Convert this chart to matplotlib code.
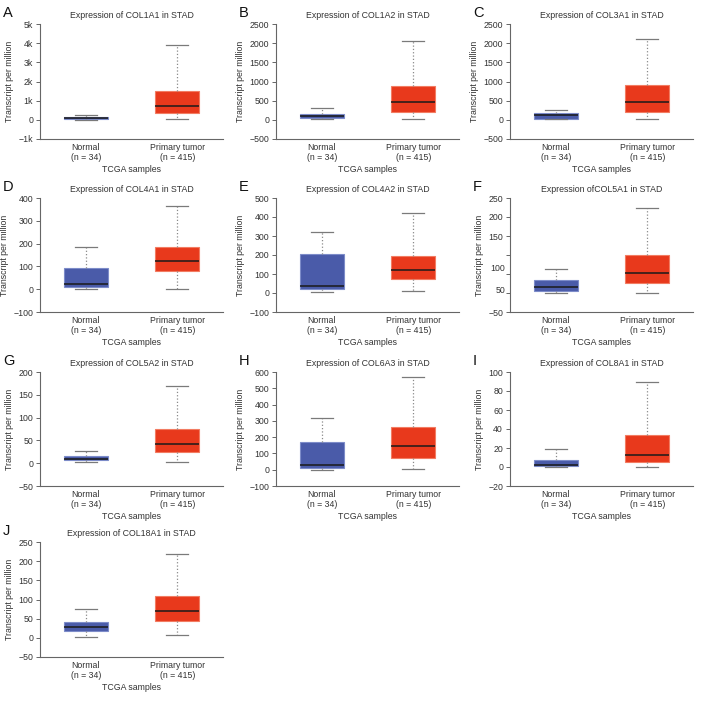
import matplotlib.pyplot as plt

plt.rcParams['font.family'] = ['Liberation Sans', 'DejaVu Sans']

# Data (Transcript per million)
genes = ['COL1A1', 'COL1A2', 'COL3A1', 'COL4A1', 'COL4A2',
         'COL5A1', 'COL5A2', 'COL6A3', 'COL8A1', 'COL18A1']
letters = ['A', 'B', 'C', 'D', 'E', 'F', 'G', 'H', 'I', 'J']
groups = ['Normal\n(n = 34)', 'Primary tumor\n(n = 415)']

# [whisker low, q1, median, q3, whisker high]
normal = [
    [0, 26, 79, 166, 253],
    [15, 41, 102, 155, 303],
    [10, 24, 115, 172, 259],
    [0, 10, 21, 91, 184],
    [5, 22, 35, 205, 320],
    [0, 4, 16, 33, 64],
    [2, 6, 10, 15, 27],
    [1, 11, 30, 170, 317],
    [0, 0.6, 2.3, 7, 19],
    [3, 19, 28, 41, 74],
]
tumor = [
    [43, 340, 724, 1527, 3883],
    [24, 216, 460, 887, 2047],
    [15, 216, 460, 896, 2108],
    [3, 79, 124, 186, 366],
    [10, 72, 123, 193, 420],
    [0, 27, 53, 99, 224],
    [2, 25, 43, 76, 170],
    [7, 75, 146, 260, 569],
    [0, 5, 13, 34, 90],
    [7, 44, 70, 108, 219],
]

yticks = [
    [-1000, 0, 1000, 2000, 3000, 4000, 5000],
    [-500, 0, 500, 1000, 1500, 2000, 2500],
    [-500, 0, 500, 1000, 1500, 2000, 2500],
    [-100, 0, 100, 200, 300, 400],
    [-100, 0, 100, 200, 300, 400, 500],
    [-50, 0, 50, 100, 150, 200, 250],
    [-50, 0, 50, 100, 150, 200],
    [-100, 0, 100, 200, 300, 400, 500, 600],
    [-20, 0, 20, 40, 60, 80, 100],
    [-50, 0, 50, 100, 150, 200, 250],
]
ytick_labels = {0: ['\u22121k', '0', '1k', '2k', '3k', '4k', '5k'],
                5: ['\u221250', '', '', '', '150', '200', '250']}
# panel F prints "100" and "50" off their ticks
f_extra_pos = [8, 68]
f_extra_labels = ['50', '100']

fig = plt.figure(figsize=(7.03, 7.02), dpi=100)
W, H = 703, 702
col_x = [40, 276, 510]
ax_w = 183
row_y = [(24, 139), (198, 312), (372, 486), (542, 657)]

blue, blue_edge = '#4a5ba9', '#7d8cc9'
red, red_edge = '#e8391c', '#f27c62'
txt = '#333333'
fs = 6.3

for i, gene in enumerate(genes):
    r, c = divmod(i, 3)
    top, bot = row_y[r]
    ax = fig.add_axes([col_x[c] / W, 1 - bot / H, ax_w / W, (bot - top) / H])

    stats = []
    for s, lab in zip([normal[i], tumor[i]], groups):
        stats.append(dict(whislo=s[0], q1=s[1], med=s[2], q3=s[3], whishi=s[4], label=lab))
    bp = ax.bxp(stats, positions=[1, 2], widths=0.48, patch_artist=True, showfliers=False,
                medianprops=dict(color='#1a1a1a', lw=1.1),
                whiskerprops=dict(color='#8a8a8a', lw=0.9, linestyle=':'),
                capprops=dict(color='#7a7a7a', lw=0.9),
                boxprops=dict(lw=0.8))
    for patch, fc, ec in zip(bp['boxes'], [blue, red], [blue_edge, red_edge]):
        patch.set_facecolor(fc)
        patch.set_edgecolor(ec)
    for cap in bp['caps']:
        x0, x1 = cap.get_xdata()
        xm = (x0 + x1) / 2
        cap.set_xdata([xm - 0.12, xm + 0.12])

    yt = yticks[i]
    ax.set_ylim(yt[0], yt[-1])
    ax.set_xlim(0.5, 2.5)
    ax.set_yticks(yt)
    if i in ytick_labels:
        ax.set_yticklabels(ytick_labels[i])
    else:
        ax.set_yticklabels([str(v).replace('-', '\u2212') for v in yt])
    if i == 5:
        ax.set_yticks(f_extra_pos, minor=True)
        ax.set_yticklabels(f_extra_labels, minor=True)
        ax.tick_params(axis='y', which='minor', length=0, labelsize=fs, colors=txt)

    for sp in ['top', 'right']:
        ax.spines[sp].set_visible(False)
    for sp in ['left', 'bottom']:
        ax.spines[sp].set_color('#666666')
        ax.spines[sp].set_linewidth(0.8)
    ax.tick_params(axis='y', length=3, width=0.7, color='#666666', labelsize=fs, pad=2,
                   labelcolor=txt)
    ax.tick_params(axis='x', length=0, labelsize=fs, pad=3, labelcolor=txt)
    for lab in ax.get_xticklabels():
        lab.set_linespacing(1.15)

    title = f'Expression of{gene} in STAD' if gene == 'COL5A1' else f'Expression of {gene} in STAD'
    ax.set_title(title, fontsize=fs, color=txt, pad=4)
    ax.set_ylabel('Transcript per million', fontsize=fs, color=txt, labelpad=3)
    ax.set_xlabel('TCGA samples', fontsize=fs, color=txt, labelpad=2)

    fig.text((col_x[c] - 37) / W, 1 - (top - 11) / H, letters[i], fontsize=10.5,
             color='#111111', va='center', ha='left')

fig.savefig('out.png', dpi=100, facecolor='white')
